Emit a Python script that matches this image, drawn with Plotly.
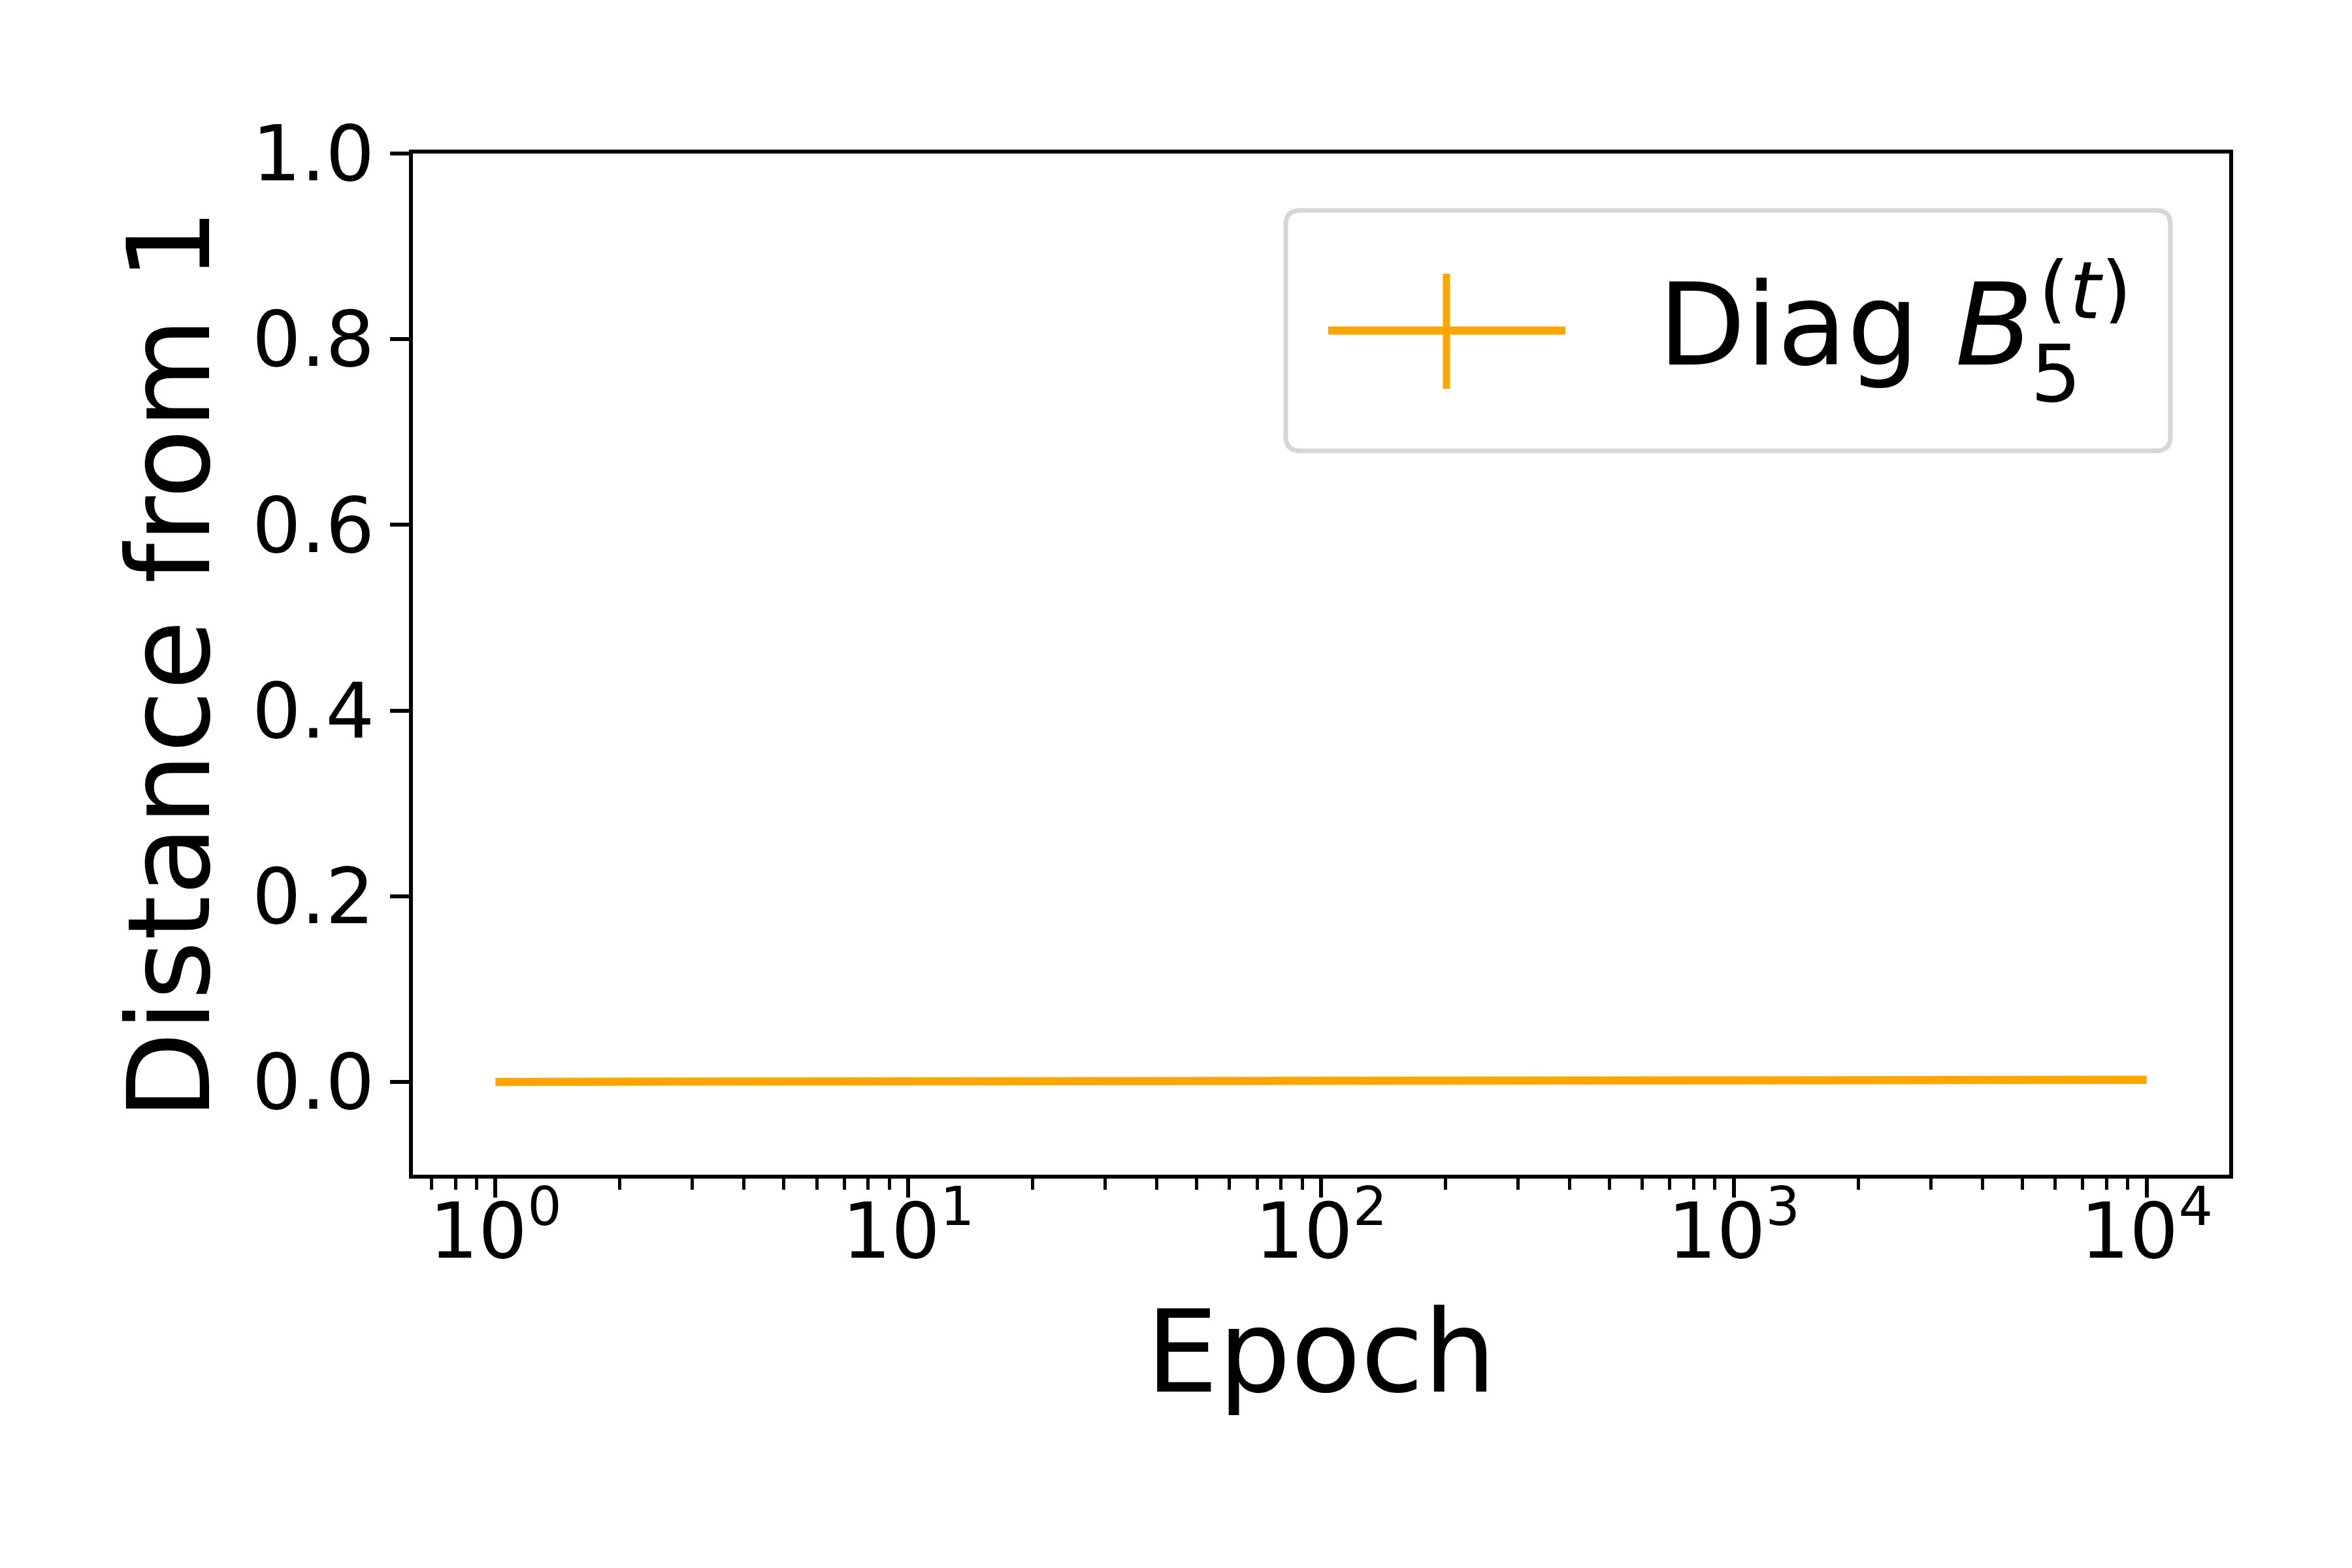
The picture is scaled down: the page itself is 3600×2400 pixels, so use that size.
import plotly.graph_objects as go

# data
epochs = [1, 2, 3, 4, 5, 6, 7, 8, 9, 10, 20, 50, 100, 200, 500, 1000, 2000, 5000, 10000]
dist = [0.0, 0.0002, 0.0004, 0.0006, 0.0003, 0.0002, 0.0002, 0.0001, 0.0001, 0.0001,
        0.0001, 0.0002, 0.0003, 0.0004, 0.0006, 0.0009, 0.0013, 0.0018, 0.0022]
x_tickvals = [1, 10, 100, 1000, 10000]
x_ticktext = ["10<sup>0</sup>", "10<sup>1</sup>", "10<sup>2</sup>", "10<sup>3</sup>", "10<sup>4</sup>"]
y_tickvals = [0.0, 0.2, 0.4, 0.6, 0.8, 1.0]

ORANGE = "#ffa500"
FONT = "DejaVu Sans"

# the page body adds an 8px offset, so the figure is 8px smaller
OFF = 8
FIG_W, FIG_H = 3600 - OFF, 2400 - OFF
# plot area in page pixels
L, R, T, B = 632, 3412, 235, 1798
W, H = R - L, B - T


def px(x):
    return (x - L) / W


def py(y):
    return (B - y) / H


fig = go.Figure()
fig.add_trace(go.Scatter(x=epochs, y=dist, mode="lines",
                         line=dict(color=ORANGE, width=12.5), showlegend=False))

axis_common = dict(
    showline=True, linecolor="black", linewidth=6, mirror=True,
    ticks="outside", ticklen=29, tickwidth=6, tickcolor="black",
    showgrid=False, zeroline=False,
    tickfont=dict(family=FONT, size=118, color="black"),
)

fig.update_xaxes(
    type="log", range=[-0.2, 4.2],
    tickvals=x_tickvals, ticktext=x_ticktext, ticklabelstandoff=-50,
    minor=dict(ticks="outside", ticklen=17, tickwidth=5, tickcolor="black", dtick="D1", showgrid=False),
    title=dict(text="Epoch", font=dict(family=FONT, size=175, color="black"), standoff=58),
    **axis_common,
)
fig.update_yaxes(
    range=[-0.1, 1.0], tickvals=y_tickvals, tickformat=".1f",
    title=dict(text="Distance from 1", font=dict(family=FONT, size=175, color="black"), standoff=7),
    **axis_common,
)

# legend drawn by hand (matplotlib style errorbar glyph)
lx0, lx1, ly0, ly1 = px(1968), px(3322), py(690), py(322)
rx, ry = 22 / W, 22 / H
path = (f"M {lx0 + rx},{ly1} L {lx1 - rx},{ly1} Q {lx1},{ly1} {lx1},{ly1 - ry} "
        f"L {lx1},{ly0 + ry} Q {lx1},{ly0} {lx1 - rx},{ly0} "
        f"L {lx0 + rx},{ly0} Q {lx0},{ly0} {lx0},{ly0 + ry} "
        f"L {lx0},{ly1 - ry} Q {lx0},{ly1} {lx0 + rx},{ly1} Z")
fig.add_shape(type="path", path=path, xref="paper", yref="paper",
              line=dict(color="#d6d6d6", width=7), fillcolor="white", layer="above")
fig.add_shape(type="line", xref="paper", yref="paper", x0=px(2033), x1=px(2396), y0=py(506), y1=py(506),
              line=dict(color=ORANGE, width=12.5), layer="above")
fig.add_shape(type="line", xref="paper", yref="paper", x0=px(2214), x1=px(2214), y0=py(419), y1=py(595),
              line=dict(color=ORANGE, width=11), layer="above")

fig.add_annotation(x=px(2536), y=py(497), xref="paper", yref="paper", xanchor="left", yanchor="middle",
                   text="Diag <i>B</i>", showarrow=False,
                   font=dict(family=FONT, size=174, color="black"))
fig.add_annotation(x=px(3106), y=py(572), xref="paper", yref="paper", xanchor="left", yanchor="middle",
                   text="5", showarrow=False, height=100,
                   font=dict(family=FONT, size=122, color="black"))
fig.add_annotation(x=px(3118), y=py(445), xref="paper", yref="paper", xanchor="left", yanchor="middle",
                   text="(<i>t</i>)", showarrow=False, height=100,
                   font=dict(family=FONT, size=122, color="black"))

fig.update_layout(
    width=FIG_W, height=FIG_H,
    margin=dict(l=L - OFF, r=3600 - R, t=T - OFF, b=2400 - B),
    paper_bgcolor="white", plot_bgcolor="white",
    font=dict(family=FONT, color="black"),
    showlegend=False,
)

fig.write_html("out.html")
